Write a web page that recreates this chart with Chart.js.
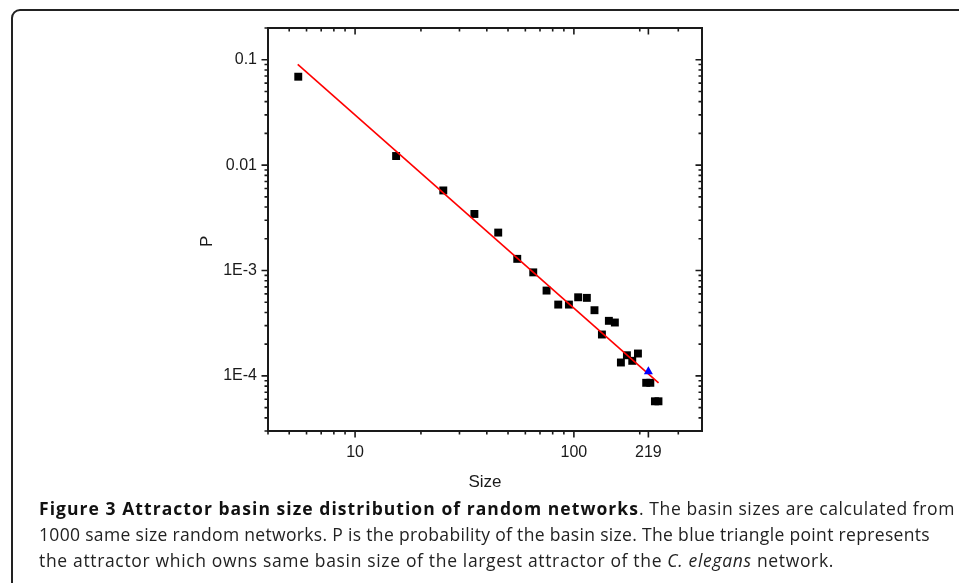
<!DOCTYPE html>
<html>
<head>
<meta charset="utf-8">
<script src="https://cdn.jsdelivr.net/npm/chart.js@4.4.1/dist/chart.umd.min.js"></script>
<style>
  html, body { margin: 0; padding: 0; background: #fff; }
  body { width: 959px; height: 583px; position: relative; overflow: hidden; }
  #box {
    position: absolute; left: 11px; top: 9px; width: 1000px; height: 700px;
    border: 2px solid #222; border-radius: 9px;
  }
  #chart { position: absolute; left: 0; top: 0; }
  .cap {
    position: absolute; left: 39px; font-family: 'Open Sans', sans-serif;
    font-size: 17.5px; color: #222; white-space: nowrap; line-height: 26px;
  }
  .cap .fit { display: inline-block; }
  .cap b { font-weight: 700; color: #111; }
</style>
</head>
<body>
<div id="box"></div>
<canvas id="chart" width="959" height="500"></canvas>
<div class="cap" style="top:495px"><b class="fit" data-w="600">Figure 3 Attractor basin size distribution of random networks</b><span class="fit" data-w="316">. The basin sizes are calculated from</span></div>
<div class="cap" style="top:521px"><span class="fit" data-w="891">1000 same size random networks. P is the probability of the basin size. The blue triangle point represents</span></div>
<div class="cap" style="top:547px"><span class="fit" data-w="795">the attractor which owns same basin size of the largest attractor of the <i>C. elegans</i> network.</span></div>
<script>
/* ── data ─────────────────────────────────────────────────────────────── */

const sizes = [5.5, 15.4, 25.3, 35.1, 45.1, 55.1, 65.2, 75, 84.8, 94.9, 104.6, 114.6,
               124.2, 134.3, 144.5, 153.9, 164, 174.7, 184.8, 196.2, 214, 223.5, 234.6, 243.5];
const probs = [0.069, 0.0122, 0.00575, 0.00344, 0.00229, 0.00129, 0.00096, 0.000645,
               0.000475, 0.000475, 0.000557, 0.00055, 0.00042, 0.000247, 0.000333, 0.000321,
               0.000134, 0.000157, 0.000139, 0.000163, 0.000086, 0.000086, 0.0000574, 0.0000574];

const fitX = [5.47, 243.7];
const fitY = [0.0904, 0.000086];

const elegansX = [219];
const elegansY = [0.00011];

/* ── axes ─────────────────────────────────────────────────────────────── */

const X_MIN = 4, X_MAX = 385;
const Y_MIN = 3e-5, Y_MAX = 0.2;

const xLabelValues = [10, 100, 219];
const xMajorTicks  = [10, 100, 219];
const xMinorTicks  = [4, 5, 6, 7, 8, 9, 20, 30, 40, 50, 60, 70, 80, 90, 200, 300];

const yLabelValues = [0.1, 0.01, 0.001, 0.0001];
const yLabels      = ['0.1', '0.01', '1E-3', '1E-4'];
const yMinorTicks  = [];
[1e-5, 1e-4, 1e-3, 1e-2, 1e-1].forEach(d => {
  for (let k = 2; k <= 9; k++) {
    const v = +(k * d).toPrecision(3);
    if (v >= Y_MIN && v <= Y_MAX) yMinorTicks.push(v);
  }
});

const AXIS_COLOR = '#1a1a1a';
const FONT = "'Liberation Sans', Arial, sans-serif";

/* ── caption: stretch each run to the width it has in the figure ──────── */

document.querySelectorAll('.cap .fit').forEach(el => {
  const target = +el.dataset.w;
  const natural = el.getBoundingClientRect().width;
  const n = el.textContent.length;
  el.style.letterSpacing = ((target - natural) / n) + 'px';
});

/* ── frame + Origin-style ticks drawn through the scales ──────────────── */

const frameTicks = {
  id: 'frameTicks',
  afterDraw(chart) {
    const { ctx, chartArea: a, scales: { x, y } } = chart;
    ctx.save();
    ctx.strokeStyle = AXIS_COLOR;
    ctx.lineWidth = 1.6;
    ctx.beginPath();
    const xt = xMajorTicks.map(v => [v, 6.5]).concat(xMinorTicks.map(v => [v, 3.5]));
    xt.forEach(([v, len]) => {
      const px = x.getPixelForValue(v);
      ctx.moveTo(px, a.bottom); ctx.lineTo(px, a.bottom + len);
      ctx.moveTo(px, a.top);    ctx.lineTo(px, a.top + len);
    });
    const yt = yLabelValues.map(v => [v, 6.5]).concat(yMinorTicks.map(v => [v, 3.5]));
    yt.forEach(([v, len]) => {
      const py = y.getPixelForValue(v);
      ctx.moveTo(a.left, py);  ctx.lineTo(a.left - len, py);
      ctx.moveTo(a.right, py); ctx.lineTo(a.right - len, py);
    });
    ctx.stroke();
    ctx.lineWidth = 2;
    ctx.strokeRect(a.left, a.top, a.right - a.left, a.bottom - a.top);
    ctx.restore();
  },
};

new Chart(document.getElementById('chart'), {
  type: 'scatter',
  data: {
    datasets: [
      {
        label: 'random networks',
        data: sizes.map((s, i) => ({ x: s, y: probs[i] })),
        pointStyle: 'rect',
        pointRadius: 5.6,
        backgroundColor: '#000',
        borderColor: '#000',
        borderWidth: 0,
        order: 3,
      },
      {
        label: 'fit',
        data: fitX.map((s, i) => ({ x: s, y: fitY[i] })),
        showLine: true,
        borderColor: '#f00',
        borderWidth: 1.6,
        pointRadius: 0,
        order: 2,
      },
      {
        label: 'C. elegans',
        data: elegansX.map((s, i) => ({ x: s, y: elegansY[i] })),
        pointStyle: 'triangle',
        pointRadius: 5.2,
        backgroundColor: '#0000ff',
        borderColor: '#0000ff',
        borderWidth: 0,
        order: 1,
      },
    ],
  },
  plugins: [frameTicks],
  options: {
    responsive: false,
    animation: false,
    layout: { padding: { left: 188, right: 257, top: 28, bottom: 7 } },
    plugins: { legend: { display: false }, tooltip: { enabled: false } },
    scales: {
      x: {
        type: 'logarithmic',
        min: X_MIN, max: X_MAX,
        grid: { display: false, drawTicks: false },
        border: { display: false },
        afterBuildTicks: s => { s.ticks = xLabelValues.map(v => ({ value: v })); },
        afterFit: s => { s.height = 62; },
        ticks: {
          autoSkip: false, maxRotation: 0, padding: 12,
          color: AXIS_COLOR, font: { family: FONT, size: 16 },
          callback: v => String(v),
        },
        title: {
          display: true, text: 'Size', color: AXIS_COLOR,
          font: { family: FONT, size: 17, lineHeight: 1.2 },
          padding: { top: 0, bottom: 0 },
        },
      },
      y: {
        type: 'logarithmic',
        min: Y_MIN, max: Y_MAX,
        grid: { display: false, drawTicks: false },
        border: { display: false },
        afterBuildTicks: s => { s.ticks = yLabelValues.map(v => ({ value: v })); },
        afterFit: s => { s.width = 80; },
        ticks: {
          autoSkip: false, padding: 11,
          color: AXIS_COLOR, font: { family: FONT, size: 16 },
          callback: (v, i) => yLabels[i],
        },
        title: {
          // trailing spaces push the rotated letter down to where Origin put it
          display: true, text: 'P     ', color: AXIS_COLOR,
          font: { family: FONT, size: 17, lineHeight: 1.2 },
          padding: { top: 9, bottom: 0 },
        },
      },
    },
  },
});
</script>
</body>
</html>
